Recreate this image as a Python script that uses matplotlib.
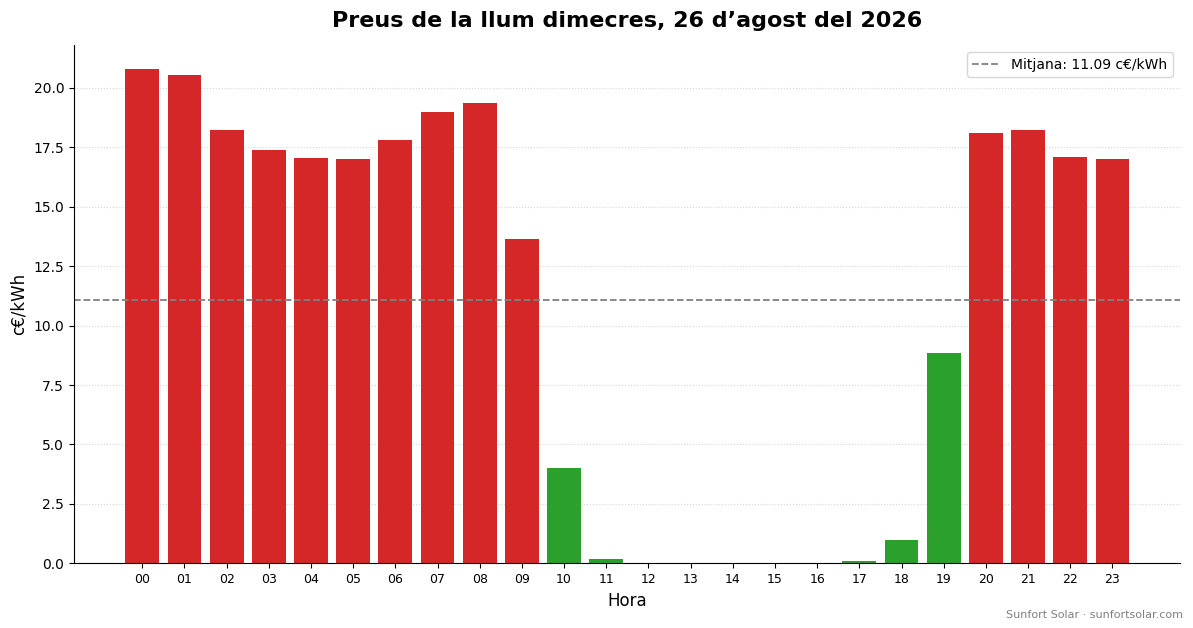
import matplotlib
matplotlib.use("Agg")
import matplotlib.pyplot as plt
import numpy as np

hours = ["%02d" % h for h in range(24)]
prices = [20.8, 20.55, 18.25, 17.4, 17.05, 17.0, 17.8, 19.0, 19.35, 13.65,
          4.0, 0.18, 0.03, 0.0, 0.0, 0.0, 0.0, 0.08, 0.98, 8.85,
          18.1, 18.25, 17.1, 17.0]
mean_price = 11.09

colors = ["#d62728" if p > mean_price else "#2ca02c" for p in prices]

fig, ax = plt.subplots(figsize=(11.93, 6.28), dpi=100)
x = np.arange(len(hours))
ax.bar(x, prices, color=colors, width=0.8)
ax.axhline(mean_price, color="gray", linestyle="--", linewidth=1.3,
           label="Mitjana: %.2f c€/kWh" % mean_price)

ax.set_xticks(x)
ax.set_xticklabels(hours, fontsize=9)
ax.set_xlim(-1.62, 24.6)
ax.set_ylim(0, 21.8)
ax.set_xlabel("Hora", fontsize=12)
ax.set_ylabel("c€/kWh", fontsize=12)
ax.set_title("Preus de la llum dimecres, 26 d\u2019agost del 2026",
             fontsize=16, fontweight="bold", pad=13)
ax.grid(axis="y", linestyle=":", alpha=0.5)
ax.set_axisbelow(True)
ax.spines["top"].set_visible(False)
ax.spines["right"].set_visible(False)
ax.legend(loc="upper right")

fig.subplots_adjust(left=0.062, right=0.989, top=0.928, bottom=0.103)
fig.text(0.992, 0.012, "Sunfort Solar · sunfortsolar.com", ha="right",
         va="bottom", fontsize=8, color="gray")
fig.savefig("out.png", dpi=100)
